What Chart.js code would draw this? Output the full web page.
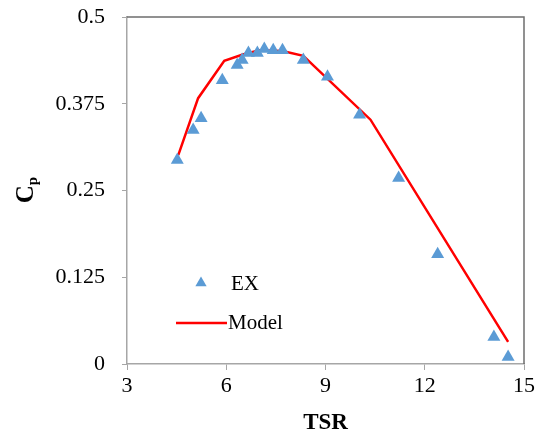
<!DOCTYPE html>
<html>
<head>
<meta charset="utf-8">
<script src="https://cdn.jsdelivr.net/npm/chart.js@4.4.1/dist/chart.umd.min.js"></script>
<style>
html,body{margin:0;padding:0;background:#fff;}
#wrap{width:535px;height:437px;}
</style>
</head>
<body>
<div id="wrap"><canvas id="c" width="535" height="437"></canvas></div>
<script>
// ---- data ----
const exTSR = [4.52, 5.00, 5.24, 5.88, 6.33, 6.48, 6.67, 6.94, 7.15, 7.42, 7.70, 8.33, 9.06, 10.03, 11.21, 12.39, 14.09, 14.52];
const exCp  = [0.294, 0.337, 0.354, 0.409, 0.431, 0.438, 0.448, 0.448, 0.454, 0.452, 0.452, 0.438, 0.414, 0.359, 0.268, 0.158, 0.039, 0.010];
const modelTSR = [4.55, 5.15, 5.94, 6.50, 7.00, 7.70, 8.33, 10.36, 14.52];
const modelCp  = [0.301, 0.383, 0.437, 0.446, 0.452, 0.451, 0.444, 0.352, 0.032];
const xTicks = [3, 6, 9, 12, 15];
const yTicks = [0, 0.125, 0.25, 0.375, 0.5];
const seriesNames = ['EX', 'Model'];
const xTitle = 'TSR';
const yTitleMain = 'C';
const yTitleSub = 'p';

const FONT = "'Liberation Serif', 'Times New Roman', serif";

const exData = exTSR.map((x, i) => ({x: x, y: exCp[i]}));
const modelData = modelTSR.map((x, i) => ({x: x, y: modelCp[i]}));

const decorPlugin = {
  id: 'decor',
  afterDraw(chart) {
    const ctx = chart.ctx;
    const a = chart.chartArea;
    ctx.save();
    // top & right border
    ctx.strokeStyle = '#6e6e6e';
    ctx.lineWidth = 1.5;
    ctx.beginPath();
    ctx.moveTo(a.left, a.top);
    ctx.lineTo(a.right, a.top);
    ctx.lineTo(a.right, a.bottom);
    ctx.stroke();
    // y title C_p
    ctx.translate(24, 190);
    ctx.rotate(-Math.PI / 2);
    ctx.fillStyle = '#000';
    ctx.textBaseline = 'alphabetic';
    ctx.font = 'bold 25px ' + FONT;
    const wC = ctx.measureText(yTitleMain).width;
    ctx.font = 'bold 15px ' + FONT;
    const wp = ctx.measureText(yTitleSub).width;
    const total = wC + wp;
    ctx.font = 'bold 25px ' + FONT;
    ctx.fillText(yTitleMain, -total / 2, 9);
    ctx.font = 'bold 15px ' + FONT;
    ctx.fillText(yTitleSub, -total / 2 + wC, 13);
    ctx.restore();

    // legend inside plot
    ctx.save();
    const ds = chart.data.datasets;
    const mx = 201, my = 283, r = 6.5;
    ctx.fillStyle = ds[0].backgroundColor;
    ctx.beginPath();
    ctx.moveTo(mx, my - r);
    ctx.lineTo(mx + r * Math.sqrt(3) / 2, my + r / 2);
    ctx.lineTo(mx - r * Math.sqrt(3) / 2, my + r / 2);
    ctx.closePath();
    ctx.fill();
    ctx.fillStyle = '#000';
    ctx.font = '21px ' + FONT;
    ctx.textBaseline = 'middle';
    ctx.fillText(ds[0].label, 231, 284);
    ctx.strokeStyle = ds[1].borderColor;
    ctx.lineWidth = 2.5;
    ctx.beginPath();
    ctx.moveTo(176, 323);
    ctx.lineTo(227, 323);
    ctx.stroke();
    ctx.fillText(ds[1].label, 228, 323);
    ctx.restore();
  }
};

new Chart(document.getElementById('c'), {
  type: 'scatter',
  data: {
    datasets: [
      {
        label: seriesNames[0],
        data: exData,
        pointStyle: 'triangle',
        pointRadius: 7.5,
        backgroundColor: '#5B9BD5',
        borderColor: '#5B9BD5',
        borderWidth: 0,
        showLine: false,
        order: 1
      },
      {
        label: seriesNames[1],
        data: modelData,
        type: 'line',
        showLine: true,
        borderColor: '#FF0000',
        backgroundColor: '#FF0000',
        borderWidth: 2.5,
        pointRadius: 0,
        fill: false,
        tension: 0,
        order: 2
      }
    ]
  },
  options: {
    responsive: false,
    animation: false,
    devicePixelRatio: 1,
    layout: { padding: { left: 0, top: 17, right: 11, bottom: 0 } },
    plugins: {
      legend: { display: false },
      tooltip: { enabled: false }
    },
    scales: {
      x: {
        type: 'linear',
        min: 3, max: 15,
        afterBuildTicks(s) { s.ticks = xTicks.map(v => ({value: v})); },
        afterFit(s) { s.height = 73; s.paddingLeft = 0; s.paddingRight = 0; },
        ticks: {
          color: '#000',
          font: { family: FONT, size: 22 },
          padding: 3,
          maxRotation: 0
        },
        grid: {
          display: true,
          drawOnChartArea: false,
          drawTicks: true,
          tickLength: 6,
          color: '#a6a6a6'
        },
        border: { color: '#a6a6a6', width: 1.5 },
        title: {
          display: true,
          text: xTitle,
          color: '#000',
          font: { family: FONT, size: 23, weight: 'bold' },
          padding: { top: 0, bottom: 0 }
        }
      },
      y: {
        type: 'linear',
        min: 0, max: 0.5,
        afterBuildTicks(s) { s.ticks = yTicks.map(v => ({value: v})); },
        afterFit(s) { s.width = 127; s.paddingTop = 0; s.paddingBottom = 0; },
        ticks: {
          color: '#000',
          font: { family: FONT, size: 22 },
          padding: 17,
          callback: v => String(v)
        },
        grid: {
          display: true,
          drawOnChartArea: false,
          drawTicks: true,
          tickLength: 5,
          color: '#a6a6a6'
        },
        border: { color: '#a6a6a6', width: 1.5 }
      }
    }
  },
  plugins: [decorPlugin]
});
</script>
</body>
</html>
